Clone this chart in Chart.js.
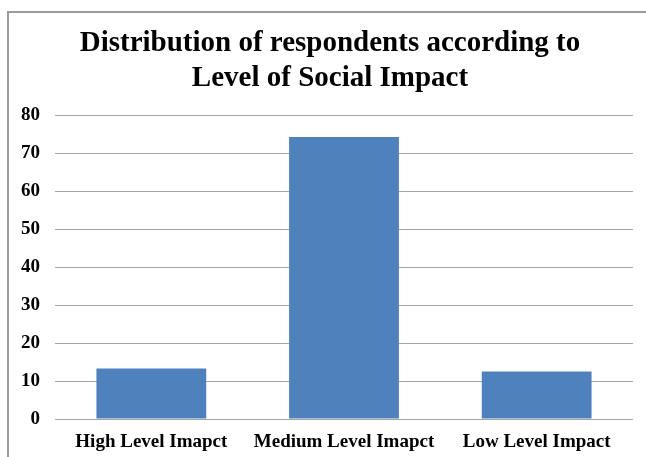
<!DOCTYPE html>
<html>
<head>
<meta charset="utf-8">
<script src="https://cdn.jsdelivr.net/npm/chart.js@4"></script>
<style>
  html, body { margin: 0; padding: 0; background: #fff; overflow: hidden; }
  #wrap { position: relative; width: 646px; height: 457px; }
  #frame { position: absolute; left: 7px; top: 11px; width: 700px; height: 500px; border: 2px solid #9a9a9a; box-sizing: border-box; }
  canvas { position: absolute; left: 0; top: 0; }
</style>
</head>
<body>
<div id="wrap">
  <div id="frame"></div>
  <canvas id="c" width="646" height="457"></canvas>
</div>
<script>
const titleLines = ['Distribution of respondents according to', 'Level of Social Impact'];
const categories = ['High Level Imapct', 'Medium Level Imapct', 'Low Level Impact'];
const values = [13.3, 74.2, 12.5];
const yTicks = [0, 10, 20, 30, 40, 50, 60, 70, 80];

const serif = '"Liberation Serif", "Times New Roman", serif';

// shift the title box so it is centred like the reference
const titleShift = {
  id: 'titleShift',
  afterLayout(chart) {
    const t = chart.titleBlock;
    if (t) { t.left += 27; }
  }
};

new Chart(document.getElementById('c'), {
  type: 'bar',
  data: {
    labels: categories,
    datasets: [{
      data: values,
      backgroundColor: '#4F81BD',
      borderWidth: 0,
      barPercentage: 0.57,
      categoryPercentage: 1.0
    }]
  },
  options: {
    responsive: false,
    animation: false,
    devicePixelRatio: 1,
    layout: { padding: { left: 0, right: 13, top: 0, bottom: 0 } },
    plugins: {
      legend: { display: false },
      tooltip: { enabled: false },
      title: {
        display: true,
        text: titleLines,
        color: '#000',
        font: { family: serif, size: 29, weight: 'bold', lineHeight: 1.207 },
        padding: { top: 26, bottom: 19 }
      }
    },
    scales: {
      x: {
        grid: { display: false, drawTicks: false },
        border: { display: false },
        ticks: {
          color: '#000',
          font: { family: serif, size: 19, weight: 'bold' },
          padding: 12,
          maxRotation: 0,
          autoSkip: false
        },
        afterFit: (s) => { s.height = 38; }
      },
      y: {
        min: 0,
        max: 80,
        afterBuildTicks: (s) => { s.ticks = yTicks.map(v => ({ value: v })); },
        grid: { color: '#a6a6a6', lineWidth: 1, drawTicks: false },
        border: { display: false },
        ticks: {
          color: '#000',
          font: { family: serif, size: 19, weight: 'bold' },
          padding: 15
        },
        afterFit: (s) => { s.width = 55; }
      }
    }
  },
  plugins: [titleShift]
});
</script>
</body>
</html>
